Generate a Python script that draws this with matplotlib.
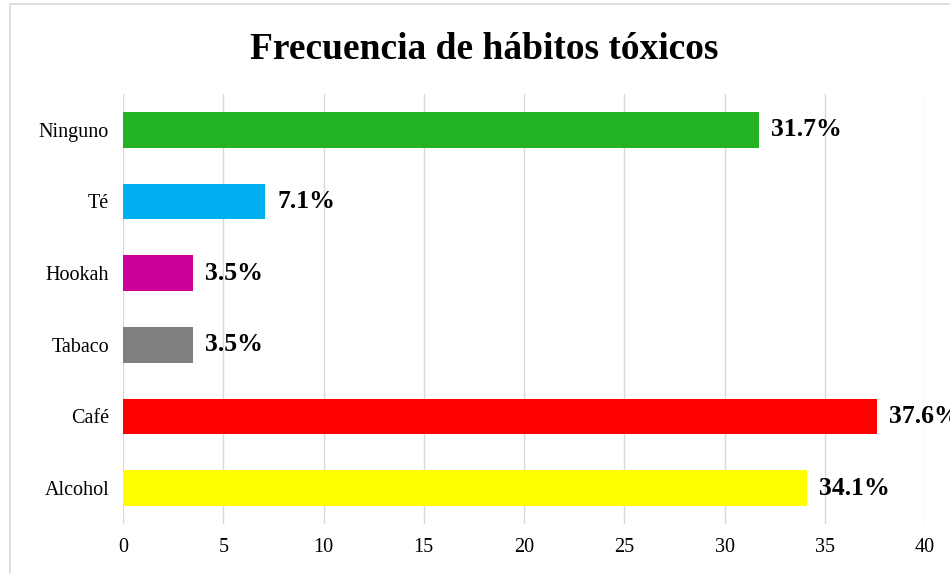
import matplotlib.pyplot as plt
from matplotlib.patches import Rectangle

categorias = ["Alcohol", "Café", "Tabaco", "Hookah", "Té", "Ninguno"]
porcentajes = [34.1, 37.6, 3.5, 3.5, 7.1, 31.7]
colores = ["#FFFF00", "#FF0000", "#808080", "#CC0099", "#00B0F0", "#22B222"]
xticks = [0, 5, 10, 15, 20, 25, 30, 35, 40]

plt.rcParams["font.family"] = ["Liberation Serif", "DejaVu Serif"]

fig = plt.figure(figsize=(9.5, 5.73), dpi=100)
ax = fig.add_axes([0.1295, 0.0855, 0.8442, 0.7505])

# marco gris claro alrededor del grafico
fig.patches.append(Rectangle((10 / 950, -0.1), 1.2, 1.1 - 4 / 573,
                             transform=fig.transFigure, fill=False,
                             edgecolor="#D9D9D9", linewidth=1.2))

ax.barh(categorias, porcentajes, height=0.5, color=colores, zorder=3)
for i, v in enumerate(porcentajes):
    ax.text(v + 0.6, i, f"{v}%", va="center", ha="left",
            fontsize=18.5, fontweight="bold", zorder=4)

ax.set_xlim(0, 40)
ax.set_ylim(-0.5, len(categorias) - 0.5)
ax.set_xticks(xticks)
ax.xaxis.grid(True, color="#D9D9D9", linewidth=1, zorder=0)
for s in ax.spines.values():
    s.set_visible(False)
ax.tick_params(axis="both", length=0, labelsize=14.5)
ax.tick_params(axis="y", pad=10)
ax.tick_params(axis="x", pad=10)

fig.suptitle("Frecuencia de hábitos tóxicos", fontsize=27, fontweight="bold",
             x=0.51, y=0.945)

fig.savefig("out.png", dpi=100)
